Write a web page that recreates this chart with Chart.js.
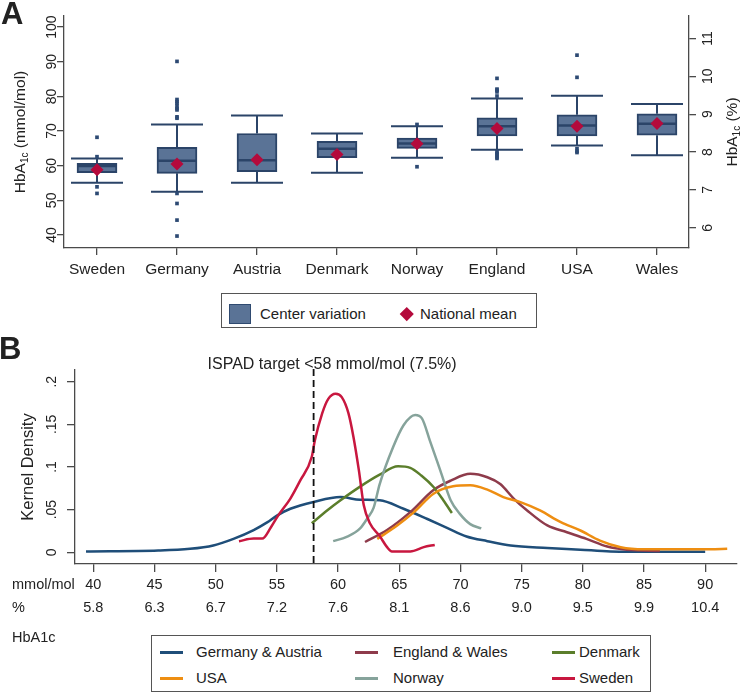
<!DOCTYPE html>
<html>
<head>
<meta charset="utf-8">
<script src="https://cdn.jsdelivr.net/npm/chart.js@4.4.1/dist/chart.umd.min.js"></script>
<style>
  body { margin: 0; background: #fff; font-family: "Liberation Sans", Arial, sans-serif; color: #222; }
  #wrap { position: relative; width: 742px; height: 694px; overflow: hidden; }
  canvas { position: absolute; left: 0; }
  #boxA { top: 0; }
  #kdeB { top: 330px; }
  .panel { position: absolute; font-weight: bold; font-size: 31px; line-height: 1; }
  .legend { position: absolute; box-sizing: border-box; border: 1px solid #555; background: #fff; font-size: 15px; }
  .legend span { position: absolute; line-height: 18px; white-space: nowrap; }
  .legend i { position: absolute; display: block; }
</style>
</head>
<body>
<div id="wrap">
  <canvas id="boxA" width="742" height="290"></canvas>
  <canvas id="kdeB" width="742" height="364"></canvas>
  <div class="panel" style="left:1px; top:-2px;">A</div>
  <div class="panel" style="left:-1px; top:333px;">B</div>

  <div class="legend" id="legendA" style="left:221px; top:293px; width:316px; height:35px;">
    <i style="left:7px; top:10px; width:22px; height:20px; box-sizing:border-box; background:#5a7396; border:1.5px solid #2f4a70;"></i>
    <span style="left:38px; top:11px;">Center variation</span>
    <i style="left:180px; top:15px; width:9.5px; height:9.5px; background:#b40a3c; transform:rotate(45deg);"></i>
    <span style="left:198px; top:11px;">National mean</span>
  </div>

  <div class="legend" id="legendB" style="left:151px; top:635px; width:500px; height:57px;"></div>
</div>

<script>
// ---- panel A: centre variation per country (mmol/mol) ----
const countries = ['Sweden', 'Germany', 'Austria', 'Denmark', 'Norway', 'England', 'USA', 'Wales'];
const lowerWhisker = [55.1, 52.5, 55.1, 58.0, 62.3, 64.6, 65.8, 63.0];
const q1 = [58.0, 57.8, 58.3, 62.3, 65.0, 68.6, 68.6, 68.8];
const median = [59.9, 61.4, 61.6, 64.9, 66.4, 71.4, 71.6, 72.1];
const q3 = [60.7, 65.3, 69.3, 67.0, 68.0, 73.8, 74.7, 75.0];
const upperWhisker = [62.1, 71.9, 74.5, 69.3, 71.4, 79.4, 80.2, 77.8];
const nationalMean = [58.8, 60.5, 61.7, 63.2, 66.3, 70.7, 71.4, 72.2];
const outliers = [
  [68.2, 62.6, 53.9, 52.0],
  [90.1, 79.1, 78.5, 78.0, 77.2, 76.5, 76.1, 74.1, 73.7, 52.0, 49.1, 44.3, 39.7],
  [],
  [],
  [71.9, 59.7],
  [85.2, 82.1, 81.8, 81.3, 80.1, 64.0, 63.5, 63.1, 62.5, 62.1],
  [91.9, 85.5, 64.9, 64.2, 63.8],
  []
];
const mmolTicksA = [40, 50, 60, 70, 80, 90, 100];
const pctTicksA = [6, 7, 8, 9, 10, 11];

// ---- panel B: kernel density, [HbA1c mmol/mol, density] ----
const germanyAustria = [[39.4,.001],[45.3,.002],[47.9,.004],[49.8,.008],[51.45,.0157],[53.1,.026],[54.2,.035],[55.0,.043],[56.1,.051],[58.0,.059],[60.2,.0647],[61.8,.0616],[63.4,.061],[65.35,.051],[67.3,.039],[68.9,.0287],[70.5,.0185],[72.2,.013],[74.1,.0079],[77.1,.005],[79.8,.003],[82.25,.001],[86.3,.0005],[90,.0005]];
const englandWales = [[62.2,.012],[64.0,.026],[65.9,.047],[67.8,.073],[69.2,.084],[70.8,.092],[72.2,.088],[73.25,.080],[74.35,.063],[75.45,.049],[77.1,.0314],[78.7,.0235],[80.3,.0157],[82.0,.0067],[83.6,.003],[86.3,.0015]];
const denmark = [[57.85,.034],[59.1,.049],[60.2,.061],[61.8,.077],[63.4,.091],[64.9,.1008],[65.9,.099],[66.8,.090],[67.8,.0765],[68.6,.061],[69.3,.046]];
const usa = [[63.2,.0157],[64.8,.031],[66.2,.047],[67.8,.0687],[69.4,.0773],[70.8,.0785],[72.2,.0734],[73.5,.0647],[74.9,.0588],[76.5,.049],[78.2,.0353],[79.8,.0255],[81.4,.0137],[83.1,.0059],[85.0,.0035],[87.7,.0035],[90.4,.0035],[91.8,.004]];
const norway = [[59.6,.013],[60.7,.018],[61.8,.028],[62.4,.040],[62.9,.052],[63.4,.080],[64.5,.1235],[65.35,.149],[66.3,.161],[66.85,.157],[67.5,.131],[68.35,.096],[69.2,.061],[69.95,.045],[70.8,.033],[71.7,.028]];
const sweden = [[51.9,.013],[53.1,.016],[53.8,.016],[54.5,.029],[55.1,.043],[56.1,.063],[56.9,.084],[57.85,.112],[58.1,.131],[58.7,.163],[59.2,.180],[59.8,.186],[60.3,.182],[60.85,.163],[61.26,.135],[61.7,.096],[62.1,.055],[62.6,.034],[63.4,.019],[64.0,.006],[64.4,.001],[65.9,.001],[67.0,.006],[67.9,.0086]];
const mmolTicksB = ['40', '45', '50', '55', '60', '65', '70', '75', '80', '85', '90'];
const pctTicksB = ['5.8', '6.3', '6.7', '7.2', '7.6', '8.1', '8.6', '9.0', '9.5', '9.9', '10.4'];
const densityTicks = ['0', '.05', '.1', '.15', '.2'];
const ispadTarget = 58;
const ispadLabel = 'ISPAD target <58 mmol/mol (7.5%)';
const rowLabels = ['mmol/mol', '%'];

const fontFamily = "'Liberation Sans', Arial, sans-serif";
const textColor = '#222';
const axisColor = '#4a4a4a';
const boxFill = '#5a7396';
const boxLine = '#2b4468';
const dotColor = '#2d4a73';
const meanColor = '#b40a3c';

Chart.defaults.font.family = fontFamily;
Chart.defaults.color = textColor;

// legend order and colours for panel B
const seriesB = [
  { label: 'Germany & Austria', data: germanyAustria, color: '#1f4e79' },
  { label: 'England & Wales', data: englandWales, color: '#8e3b4b' },
  { label: 'Denmark', data: denmark, color: '#5b7e2b' },
  { label: 'USA', data: usa, color: '#ee8e12' },
  { label: 'Norway', data: norway, color: '#86a39b' },
  { label: 'Sweden', data: sweden, color: '#c8173f' }
];

function drawRotatedTitle(ctx, cx, cy, parts){
    ctx.save();
    ctx.translate(cx, cy);
    ctx.rotate(-Math.PI / 2);
    ctx.textBaseline = 'middle';
    ctx.textAlign = 'left';
    ctx.fillStyle = textColor;
    let total = 0;
    parts.forEach(p => {
        ctx.font = p.size + 'px ' + fontFamily;
        p.w = ctx.measureText(p.text).width;
        total += p.w;
    });
    let px = -total / 2;
    parts.forEach(p => {
        ctx.font = p.size + 'px ' + fontFamily;
        ctx.fillText(p.text, px, p.shift || 0);
        px += p.w;
    });
    ctx.restore();
}

const capHalf = 0.325;
const boxHalf = 0.25;

const boxWhiskers = {
    id: 'boxWhiskers',
    afterDatasetDraw(chart, args){
        if(args.index !== 2) return;
        const {ctx, scales: {x, y}} = chart;
        ctx.save();
        ctx.strokeStyle = boxLine;
        countries.forEach((c, i) => {
            const cx = x.getPixelForValue(i);
            const yUp = y.getPixelForValue(upperWhisker[i]);
            const yLo = y.getPixelForValue(lowerWhisker[i]);
            ctx.lineWidth = 2;
            ctx.beginPath();
            ctx.moveTo(cx, y.getPixelForValue(q3[i]));
            ctx.lineTo(cx, yUp);
            ctx.moveTo(cx, y.getPixelForValue(q1[i]));
            ctx.lineTo(cx, yLo);
            ctx.moveTo(x.getPixelForValue(i - capHalf), yUp);
            ctx.lineTo(x.getPixelForValue(i + capHalf), yUp);
            ctx.moveTo(x.getPixelForValue(i - capHalf), yLo);
            ctx.lineTo(x.getPixelForValue(i + capHalf), yLo);
            ctx.stroke();
            const yMed = y.getPixelForValue(median[i]);
            ctx.lineWidth = 2.5;
            ctx.beginPath();
            ctx.moveTo(x.getPixelForValue(i - boxHalf), yMed);
            ctx.lineTo(x.getPixelForValue(i + boxHalf), yMed);
            ctx.stroke();
        });
        ctx.restore();
    },
    afterDraw(chart){
        const {ctx, chartArea} = chart;
        const cy = (chartArea.top + chartArea.bottom) / 2;
        drawRotatedTitle(ctx, chart.scales.y.left + 21, cy, [
            {text: 'HbA', size: 15.5}, {text: '1c', size: 10, shift: 4}, {text: ' (mmol/mol)', size: 15.5}
        ]);
        drawRotatedTitle(ctx, chart.scales.y1.right - 9, cy, [
            {text: 'HbA', size: 15.5}, {text: '1c', size: 10, shift: 4}, {text: ' (%)', size: 15.5}
        ]);
    }
};

const outlierPoints = [];
outliers.forEach((list, i) => list.forEach(v => outlierPoints.push({x: i, y: v})));

function axisGrid(len){
    return { display: true, drawOnChartArea: false, drawTicks: true, tickLength: len, color: axisColor, lineWidth: 1.3, offset: false };
}

new Chart(document.getElementById('boxA'), {
    type: 'bar',
    data: {
        datasets: [
            {
                type: 'scatter',
                label: 'National mean',
                data: nationalMean.map((v, i) => ({x: i, y: v})),
                pointStyle: 'rectRot',
                pointRadius: 6.5,
                backgroundColor: meanColor,
                borderWidth: 0,
                showLine: false
            },
            {
                type: 'scatter',
                label: 'Outliers',
                data: outlierPoints,
                pointStyle: 'rect',
                pointRadius: 2.6,
                backgroundColor: dotColor,
                borderWidth: 0,
                showLine: false
            },
            {
                type: 'bar',
                label: 'Center variation',
                data: countries.map((c, i) => ({x: i, y: [q1[i], q3[i]]})),
                backgroundColor: boxFill,
                borderColor: boxLine,
                borderWidth: 2,
                borderSkipped: false,
                barThickness: 40,
                grouped: false
            }
        ]
    },
    options: {
        responsive: false,
        animation: false,
        layout: { padding: { top: 16, left: 0, right: 0, bottom: 0 } },
        plugins: { legend: { display: false }, tooltip: { enabled: false } },
        scales: {
            x: {
                type: 'linear',
                offset: false,
                min: -0.4125,
                max: 7.4,
                grid: axisGrid(7),
                border: { display: true, color: axisColor, width: 1.3 },
                ticks: {
                    stepSize: 1, includeBounds: false, autoSkip: false, maxRotation: 0,
                    padding: 5.5, font: { size: 15.5 }, color: textColor,
                    callback: v => countries[v]
                },
                afterFit: s => { s.height = 42; }
            },
            y: {
                type: 'linear',
                position: 'left',
                min: 36.25,
                max: 103.2,
                beginAtZero: false,
                grid: axisGrid(7),
                border: { display: true, color: axisColor, width: 1.3 },
                ticks: {
                    stepSize: 10, includeBounds: false, minRotation: 90, maxRotation: 90,
                    crossAlign: 'center', padding: -6.7, font: { size: 14 }, color: textColor,
                    callback: (v, i) => String(mmolTicksA[i])
                },
                afterFit: s => { s.width = 64; }
            },
            y1: {
                type: 'linear',
                position: 'right',
                display: true,
                min: 5.467,
                max: 11.593,
                grid: axisGrid(7),
                border: { display: true, color: axisColor, width: 1.3 },
                ticks: {
                    stepSize: 1, includeBounds: false, minRotation: 90, maxRotation: 90,
                    crossAlign: 'center', padding: 4.2, font: { size: 14 }, color: textColor,
                    callback: (v, i) => String(pctTicksA[i])
                },
                afterFit: s => { s.width = 53; }
            }
        }
    },
    plugins: [boxWhiskers]
});

// ---- panel B ----
const ispadLine = {
    id: 'ispadLine',
    afterDatasetsDraw(chart){
        const {ctx, chartArea, scales: {x}} = chart;
        const px = x.getPixelForValue(ispadTarget);
        ctx.save();
        ctx.strokeStyle = '#111';
        ctx.lineWidth = 1.8;
        ctx.setLineDash([7, 4]);
        ctx.beginPath();
        ctx.moveTo(px, chartArea.top - 1);
        ctx.lineTo(px, chartArea.bottom);
        ctx.stroke();
        ctx.setLineDash([]);
        ctx.fillStyle = textColor;
        ctx.font = '16px ' + fontFamily;
        ctx.textAlign = 'center';
        ctx.textBaseline = 'middle';
        ctx.fillText(ispadLabel, px + 18.5, chartArea.top - 5);
        // row labels left of the two tick rows, then the axis name
        ctx.font = '14.5px ' + fontFamily;
        ctx.textAlign = 'left';
        const firstRow = x.top + 8 + 1.6 + 11.35;
        rowLabels.forEach((t, i) => ctx.fillText(t, 12, firstRow + i * 22.7));
        ctx.fillText('HbA1c', 12, firstRow + 53);
        ctx.restore();
    }
};

const drawOrder = ['Sweden', 'USA', 'Norway', 'Denmark', 'England & Wales', 'Germany & Austria'];

new Chart(document.getElementById('kdeB'), {
    type: 'line',
    data: {
        datasets: drawOrder.map(name => {
            const s = seriesB.find(d => d.label === name);
            return {
                label: s.label,
                data: s.data.map(p => ({x: p[0], y: p[1]})),
                borderColor: s.color,
                backgroundColor: s.color,
                borderWidth: 2.5,
                pointRadius: 0,
                cubicInterpolationMode: 'monotone',
                borderJoinStyle: 'round',
                fill: false
            };
        })
    },
    options: {
        responsive: false,
        animation: false,
        layout: { padding: { top: 40, left: 0, right: 5, bottom: 0 } },
        plugins: { legend: { display: false }, tooltip: { enabled: false } },
        scales: {
            x: {
                type: 'linear',
                min: 38.5,
                max: 92.6,
                grid: axisGrid(8),
                border: { display: true, color: axisColor, width: 1.3 },
                ticks: {
                    stepSize: 5, includeBounds: false, autoSkip: false, maxRotation: 0,
                    padding: 1.6, font: { size: 14.5, lineHeight: 1.566 }, color: textColor,
                    callback: (v, i) => [mmolTicksB[i], pctTicksB[i]]
                },
                afterFit: s => { s.height = 130; }
            },
            y: {
                type: 'linear',
                min: -0.0138,
                max: 0.2138,
                grid: axisGrid(8),
                border: { display: true, color: axisColor, width: 1.3 },
                title: { display: true, text: 'Kernel Density', font: { size: 16.5 }, padding: { top: 19, bottom: 0 }, color: textColor },
                ticks: {
                    stepSize: 0.05, includeBounds: false, minRotation: 90, maxRotation: 90,
                    crossAlign: 'center', padding: 5.3, font: { size: 14 }, color: textColor,
                    callback: (v, i) => densityTicks[i]
                },
                afterFit: s => { s.width = 75; }
            }
        }
    },
    plugins: [ispadLine]
});

// HTML legend for panel B, three columns
const legendB = document.getElementById('legendB');
const colLine = [8, 203, 400];
const colText = [44, 241, 427];
const rowY = [16, 42];
seriesB.forEach((s, k) => {
    const col = k % 3, row = Math.floor(k / 3);
    const line = document.createElement('i');
    line.style.cssText = 'left:' + colLine[col] + 'px; top:' + (rowY[row] - 1.5) + 'px; width:23px; height:3px; background:' + s.color + ';';
    legendB.appendChild(line);
    const txt = document.createElement('span');
    txt.textContent = s.label;
    txt.style.left = colText[col] + 'px';
    txt.style.top = (rowY[row] - 9) + 'px';
    legendB.appendChild(txt);
});
</script>
</body>
</html>
